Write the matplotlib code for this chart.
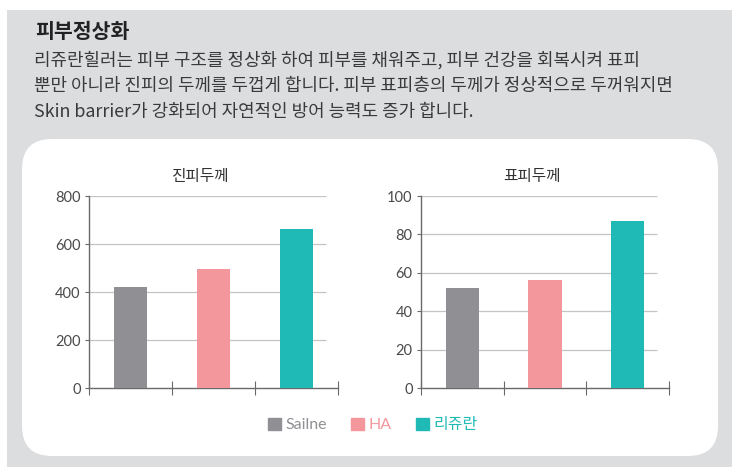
import matplotlib
matplotlib.use('Agg')
import matplotlib.pyplot as plt
from matplotlib.patches import Rectangle, FancyBboxPatch
from matplotlib.transforms import IdentityTransform
import numpy as np

plt.rcParams['font.family'] = ['Lato', 'Noto Sans CJK KR', 'DejaVu Sans']

# data
groups = ['Sailne', 'HA', '리쥬란']
colors = ['#8f8f94', '#f4979c', '#1fbab5']
dermis = [422, 497, 662]        # 진피두께
epidermis = [52, 56, 87]        # 표피두께
dermis_ticks = [0, 200, 400, 600, 800]
epi_ticks = [0, 20, 40, 60, 80, 100]

title = '피부정상화'
body = ['리쥬란힐러는 피부 구조를 정상화 하여 피부를 채워주고, 피부 건강을 회복시켜 표피',
        '뿐만 아니라 진피의 두께를 두껍게 합니다. 피부 표피층의 두께가 정상적으로 두꺼워지면',
        'Skin barrier가 강화되어 자연적인 방어 능력도 증가 합니다.']

W, H = 740, 476
fig = plt.figure(figsize=(W / 100, H / 100), dpi=100)
fig.patch.set_facecolor('white')

# gray card + white rounded panel (pixel coords), kept behind the axes
fig.patches.append(Rectangle((7, 9), 725, 457, transform=IdentityTransform(),
                             facecolor='#dcdddf', edgecolor='none', zorder=-3))
fig.patches.append(FancyBboxPatch((22 + 30, 20 + 30), 696 - 60, 317 - 60,
                                  boxstyle='round,pad=30,rounding_size=30',
                                  transform=IdentityTransform(),
                                  facecolor='white', edgecolor='none', zorder=-2))

fig.text(35 / W, 1 - 31 / H, title, fontsize=14.8, fontweight='bold',
         family='Noto Sans CJK KR', color='#222222', va='center')
for i, line in enumerate(body):
    fig.text(34 / W, 1 - (60 + 26 * i) / H, line, fontsize=12.9,
             family=['Noto Sans CJK KR'], color='#3a3a3a', va='center')


def bar_panel(rect, vals, ticks, name, title_x):
    ax = fig.add_axes(rect)
    ax.set_facecolor('none')
    x = np.arange(len(vals)) + 0.5
    bars = ax.bar(x, vals, width=0.4, color=colors, zorder=3)
    ax.set_xlim(0, len(vals))
    ax.set_ylim(ticks[0], ticks[-1])
    ax.hlines(ticks[1:], 0, len(vals) - 0.145, color='#c4c4c4', lw=0.9, zorder=1)
    ax.set_yticks(ticks)
    ax.set_xticks(np.arange(len(vals) + 1))
    ax.set_xticklabels([])
    for s in ['top', 'right']:
        ax.spines[s].set_visible(False)
    for s in ['left', 'bottom']:
        ax.spines[s].set_color('#6a6a6a')
        ax.spines[s].set_linewidth(1.0)
    ax.tick_params(axis='y', length=3, color='#6a6a6a', labelsize=10.5,
                   labelcolor='#4a4a4a', pad=3)
    ax.tick_params(axis='x', direction='inout', length=10, color='#6a6a6a')
    fig.text(title_x / W, 1 - 177 / H, name, fontsize=11.3, ha='center', va='center',
             family='Noto Sans CJK KR', color='#333333')
    return bars


bar_panel([89 / W, (H - 388) / H, 249 / W, 192 / H], dermis, dermis_ticks, '진피두께', 201)
bar_panel([421 / W, (H - 388) / H, 248 / W, 192 / H], epidermis, epi_ticks, '표피두께', 532)

handles = [Rectangle((0, 0), 1, 1, color=c) for c in colors]
fig.legend(handles, groups, loc='center', bbox_to_anchor=(373 / W, 1 - 425 / H),
           ncol=3, frameon=False, fontsize=11.5, handlelength=0.8, handleheight=0.8,
           handletextpad=0.3, columnspacing=1.5, labelcolor=colors)

fig.savefig('out.png', dpi=100)
